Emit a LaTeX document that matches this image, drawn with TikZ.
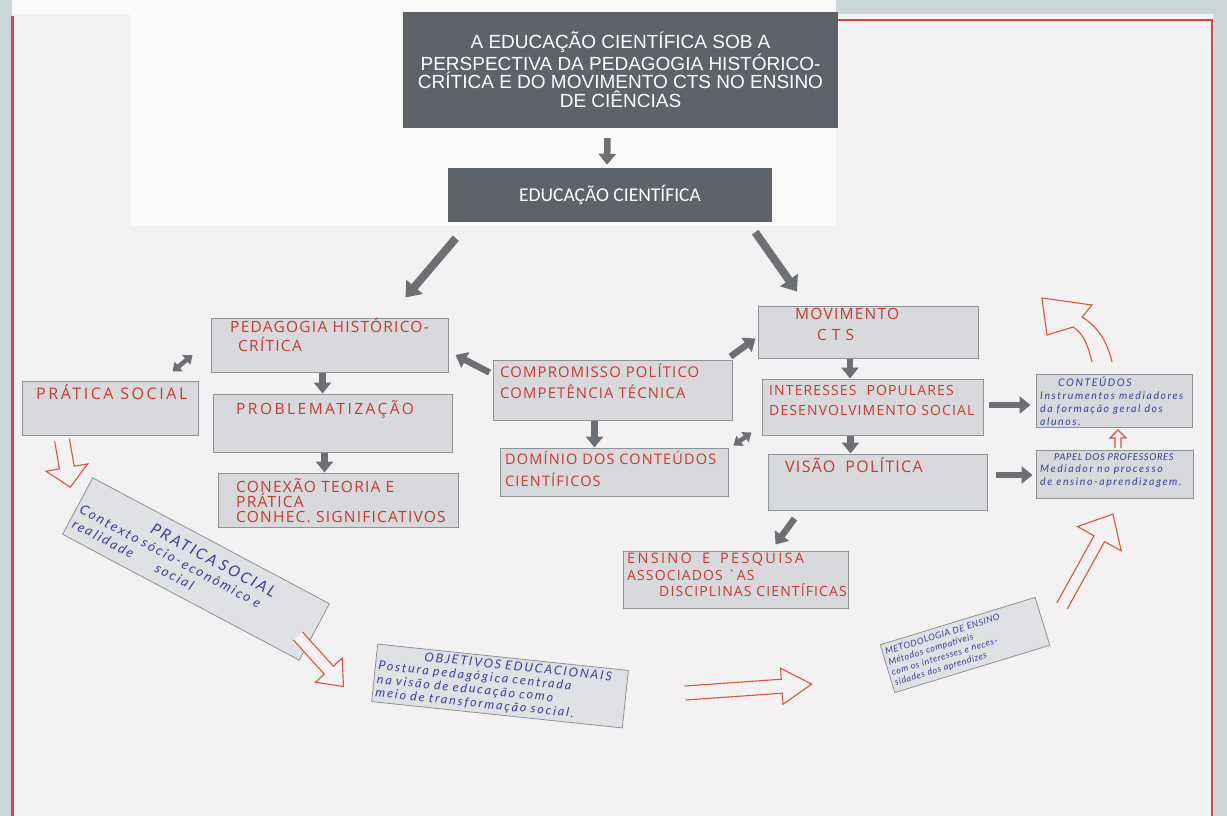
\documentclass[tikz,border=0pt]{standalone}
\usepackage{fontspec}
\setmainfont{Liberation Sans}
\newfontfamily\redhand[LetterSpace=8]{Open Sans}
\newfontfamily\redwide[LetterSpace=16]{Open Sans}
\newfontfamily\bluehand[LetterSpace=15]{Lato}
\newfontfamily\blueplain[LetterSpace=6]{Lato}
\newfontfamily\educfont{Carlito}
\usetikzlibrary{arrows.meta}
\definecolor{paper}{HTML}{F3F1F1}
\definecolor{sheet}{HTML}{FAFAFA}
\definecolor{wall}{HTML}{CBD6D6}
\definecolor{redline}{HTML}{D8423F}
\definecolor{redink}{HTML}{C83A2E}
\definecolor{blueink}{HTML}{3B3F9C}
\definecolor{boxfill}{HTML}{D7D9DD}
\definecolor{boxline}{HTML}{8E9196}
\definecolor{darkbox}{HTML}{5E636A}
\definecolor{arrowgray}{HTML}{6C6F73}
\definecolor{hollowred}{HTML}{D9553F}
\newcommand\hollowarr[7]{%
  \begin{scope}[shift={(#1,#2)},rotate=#3]
    \draw[hollow] (0,{#5/2}) -- ({#4-#7},{#5/2}) -- ({#4-#7},{#6/2}) -- (#4,0)
      -- ({#4-#7},{-#6/2}) -- ({#4-#7},{-#5/2}) -- (0,{-#5/2});
  \end{scope}}
\newcommand\wgap{\hspace{10pt}}
\begin{document}
\begin{tikzpicture}[x=1pt,y=-1pt,
  box/.style={draw=boxline, fill=boxfill, line width=1pt, inner sep=0, minimum width=#1},
  box/.default=200,
  darkrect/.style={fill=darkbox, inner sep=0},
  redtxt/.style={font=\redhand\fontsize{15}{19}\selectfont, text=redink, align=left, inner sep=0, anchor=north west},
  bluetxt/.style={font=\bluehand\itshape\fontsize{10.5}{12.8}\selectfont, text=blueink, align=left, inner sep=0, anchor=north west},
  card/.style={draw=boxline, fill=boxfill!80!white, line width=0.8pt, inner sep=3pt, text=blueink},
  garrow/.style={draw=arrowgray, line width=6.5pt, -{Triangle[length=11pt,width=17pt]}},
  bigarrow/.style={draw=arrowgray, line width=8pt, -{Triangle[length=14pt,width=21pt]}},
  darrow/.style={draw=arrowgray, line width=4.5pt, {Triangle[length=8pt,width=12pt]}-{Triangle[length=8pt,width=12pt]}},
  hollow/.style={draw=hollowred, line width=1.1pt, fill=paper, line join=miter}
]
\useasboundingbox (0,0) rectangle (1227,816);
% background
\fill[wall] (0,0) rectangle (1227,816);
\fill[paper] (12,14) rectangle (1214,816);
\fill[sheet] (12,0) rectangle (836,14);
\fill[sheet] (130,12) rectangle (836,226);
\draw[redline, line width=3pt] (12,16) -- (12,816);
\draw[redline, line width=2.5pt] (838,20) -- (1212,20) -- (1212,816);

% title and top box
\node[darkrect, minimum width=435, minimum height=116, font=\fontsize{19}{18.7}\selectfont, text=white, align=center] (title) at (620.5,70)
  {A EDUCAÇÃO CIENTÍFICA SOB A\\PERSPECTIVA DA PEDAGOGIA HISTÓRICO-\\CRÍTICA E DO MOVIMENTO CTS NO ENSINO\\DE CIÊNCIAS};
\node[darkrect, minimum width=324, minimum height=54, font=\educfont\fontsize{19.5}{21}\selectfont, text=white] (educ) at (610,195) {EDUCAÇÃO CIENTÍFICA};

% light boxes
\node[box=237, minimum height=54] (phc) at (329.5,345) {};
\node[box=239, minimum height=58] (prob) at (332.5,423) {};
\node[box=240, minimum height=54] (conex) at (338,500) {};
\node[box=176, minimum height=54] (ps) at (110,408) {};
\node[box=239, minimum height=60] (comp) at (612.5,390) {};
\node[box=228, minimum height=48] (dom) at (614,472) {};
\node[box=220, minimum height=52] (mov) at (868,332) {};
\node[box=221, minimum height=56] (int) at (872.5,407) {};
\node[box=219, minimum height=56] (vis) at (877.5,482) {};
\node[box=225, minimum height=57] (ens) at (735.5,579.5) {};
\node[box=156, minimum height=53] (cont) at (1114,400.5) {};
\node[box=157, minimum height=48] (papel) at (1114.5,474) {};

% red texts
\node[redtxt, font=\redhand\fontsize{15.5}{19}\selectfont] (tphc) at (230,318) {PEDAGOGIA HISTÓRICO-\\\hspace*{8pt}CRÍTICA};
\node[redtxt, font=\redwide\fontsize{15.5}{19}\selectfont] (tprob) at (236,400) {PROBLEMATIZAÇÃO};
\node[redtxt, font=\redhand\fontsize{15.5}{15}\selectfont] (tconex) at (236,478) {CONEXÃO TEORIA E\\PRÁTICA\\CONHEC. SIGNIFICATIVOS};
\node[redtxt, font=\redwide\fontsize{16}{19}\selectfont] (tps) at (36,384) {PRÁTICA SOCIAL};
\node[redtxt, font=\redhand\fontsize{14.8}{21}\selectfont] (tcomp) at (500,364) {COMPROMISSO POLÍTICO\\COMPETÊNCIA TÉCNICA};
\node[redtxt, font=\redhand\fontsize{14.5}{22}\selectfont] (tdom) at (505,451) {DOMÍNIO DOS CONTEÚDOS\\CIENTÍFICOS};
\node[redtxt, font=\redhand\fontsize{15.5}{21}\selectfont] (tmov) at (795,308) {MOVIMENTO\\\hspace*{22pt}C\hspace{5pt}T\hspace{5pt}S};
\node[redtxt, font=\redhand\fontsize{14}{20}\selectfont] (tint) at (769,385) {INTERESSES\wgap POPULARES\\DESENVOLVIMENTO SOCIAL};
\node[redtxt, font=\redhand\fontsize{16}{19}\selectfont] (tvis) at (785,457) {VISÃO\wgap POLÍTICA};
\node[redtxt, font=\redhand\fontsize{14}{16.5}\selectfont] (tens) at (627,553) {{\redwide\fontsize{14.5}{16.5}\selectfont ENSINO\wgap E\wgap PESQUISA}\\ASSOCIADOS `AS\\\hspace*{32pt}DISCIPLINAS CIENTÍFICAS};

% blue texts
\node[bluetxt] (tcont) at (1040,377) {\hspace*{18pt}CONTEÚDOS\\Instrumentos mediadores\\da formação geral dos\\alunos.};
\node[bluetxt] (tpapel) at (1040,453) {\hspace*{14pt}{\blueplain\itshape\fontsize{9.5}{12.8}\selectfont PAPEL DOS PROFESSORES}\\Mediador no processo\\de ensino-aprendizagem.};

% rotated cards
\node[card, rotate=-28, minimum width=268, minimum height=64, text width=260, align=left, font=\bluehand\itshape\fontsize{13.5}{16}\selectfont] (pscard) at (196,569)
  {\hspace*{72pt}{\fontsize{15.5}{16}\selectfont PRATICA SOCIAL}\\Contexto sócio-econômico e\\realidade\hspace*{26pt}social};
\node[card, rotate=-6, minimum width=252, minimum height=56, text width=246, align=left, font=\bluehand\itshape\fontsize{12.5}{13.5}\selectfont] (objcard) at (500,686)
  {\hspace*{45pt}OBJETIVOS EDUCACIONAIS\\Postura pedagógica centrada\\na visão de educação como\\meio de transformação social.};
\node[card, rotate=17, minimum width=162, minimum height=50, text width=156, align=left, font=\blueplain\itshape\fontsize{9}{10.8}\selectfont] (metcard) at (965,645)
  {METODOLOGIA DE ENSINO\\Métodos compatíveis\\com os interesses e neces-\\sidades dos aprendizes};

% gray arrows
\draw[garrow] ([xshift=-13,yshift=-10]title.south) -- ([xshift=-3,yshift=3]educ.north);
\draw[bigarrow] ([xshift=8,yshift=-16]educ.south west) -- ([xshift=-43,yshift=20]phc.north east);
\draw[bigarrow] ([xshift=-17,yshift=-10]educ.south east) -- ([xshift=-71,yshift=14]mov.north);
\draw[garrow] ([xshift=-7]phc.south) -- ([xshift=-7]phc.south |- prob.north);
\draw[garrow] ([xshift=-8]prob.south) -- ([xshift=-8]prob.south |- conex.north);
\draw[darrow] ([xshift=-26,yshift=9]ps.north east) -- ([xshift=-18,yshift=-10]phc.west);
\draw[garrow] ([xshift=-3,yshift=-13]comp.north west) -- ([xshift=7,yshift=-10]phc.east);
\draw[garrow] ([xshift=-2,yshift=3]comp.north east) -- ([xshift=-2,yshift=20]mov.south west);
\draw[garrow] ([xshift=-18]comp.south) -- ([xshift=-18]comp.south |- dom.north);
\draw[darrow] ([xshift=5,yshift=2]dom.north east) -- ([xshift=-10,yshift=3]int.south west);
\draw[garrow] ([xshift=-18]mov.south) -- ([xshift=-18]mov.south |- int.north);
\draw[garrow] ([xshift=-22]int.south) -- ([xshift=-22]int.south |- vis.north);
\draw[garrow] ([xshift=27,yshift=-8]vis.south west) -- ([xshift=40,yshift=6]ens.north);
\draw[garrow] ([xshift=5,yshift=2]int.east) -- ([xshift=-5,yshift=2]int.east -| cont.west);
\draw[garrow] ([xshift=8,yshift=7]vis.east) -- ([xshift=-3,yshift=7]vis.east -| papel.west);

% hollow red arrows
\hollowarr{62}{440}{-80}{48}{15}{42}{20}
\hollowarr{298}{636}{-48}{68}{12}{36}{22}
\hollowarr{685}{693}{4}{127}{14}{36}{30}
\hollowarr{1062}{606}{61}{105}{12}{50}{28}
\hollowarr{1118}{448}{90}{18}{6}{16}{8}
\draw[hollow] (1092,362) .. controls (1088,345) and (1083,333) .. (1073,327) -- (1047,335) -- (1042,298)
  -- (1092,305) -- (1082,317) .. controls (1100,328) and (1108,345) .. (1112,362);
\end{tikzpicture}
\end{document}
